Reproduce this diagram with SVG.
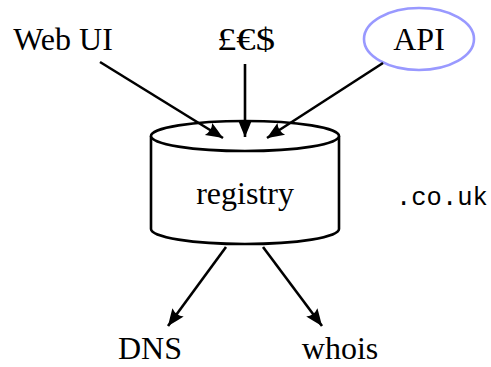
<svg xmlns="http://www.w3.org/2000/svg" width="491" height="367" viewBox="0 0 491 367">
  <style>
    .lbl { font-family: "Liberation Serif", "DejaVu Serif", "Times New Roman", serif; font-size: 32px; fill: #000; text-anchor: middle; }
    .mono { font-family: "Liberation Mono", "DejaVu Sans Mono", "Courier New", monospace; font-size: 25.5px; fill: #000; }
    .edge { stroke: #000; stroke-width: 2.6; fill: none; }
    .shape { stroke: #000; stroke-width: 2.6; fill: #fff; }
  </style>
  <defs>
    <marker id="tip" markerUnits="userSpaceOnUse" markerWidth="20" markerHeight="16" viewBox="-18 -8 19 16" refX="0" refY="0" orient="auto">
      <path d="M0,0 Q-8,-3.5 -17,-7 Q-13,0 -17,7 Q-8,3.5 0,0 Z" fill="#000"/>
    </marker>
  </defs>
  <rect width="491" height="367" fill="#fff"/>

  <g id="webui"><text class="lbl" x="63" y="50" font-family="Liberation Serif, DejaVu Serif, serif">Web UI</text></g>
  <g id="currency"><text class="lbl" x="246" y="50" textLength="58" lengthAdjust="spacingAndGlyphs" font-family="Liberation Serif, DejaVu Serif, serif">£€$</text></g>
  <g id="api">
    <ellipse cx="419" cy="39" rx="55" ry="31" fill="none" stroke="#9999ff" stroke-width="2.6"/>
    <text class="lbl" x="419" y="50" font-family="Liberation Serif, DejaVu Serif, serif">API</text>
  </g>

  <g id="registry">
    <path class="shape" d="M151,136 L151,229 A94,15 0 0 0 339,229 L339,136"/>
    <ellipse class="shape" cx="245" cy="136" rx="94" ry="15"/>
    <text class="lbl" x="245" y="204" font-family="Liberation Serif, DejaVu Serif, serif">registry</text>
  </g>

  <g id="tld"><text class="mono" x="396" y="205">.co.uk</text></g>

  <g id="dns"><text class="lbl" x="150" y="359" font-family="Liberation Serif, DejaVu Serif, serif">DNS</text></g>
  <g id="whois"><text class="lbl" x="340" y="359" font-family="Liberation Serif, DejaVu Serif, serif">whois</text></g>

  <g id="connectors">
    <line class="edge" x1="100" y1="62" x2="223" y2="138" marker-end="url(#tip)"/>
    <line class="edge" x1="245" y1="64" x2="245" y2="137" marker-end="url(#tip)"/>
    <line class="edge" x1="383" y1="63" x2="267" y2="138" marker-end="url(#tip)"/>
    <line class="edge" x1="226" y1="247" x2="168" y2="326" marker-end="url(#tip)"/>
    <line class="edge" x1="263" y1="247" x2="322" y2="326" marker-end="url(#tip)"/>
  </g>
</svg>
